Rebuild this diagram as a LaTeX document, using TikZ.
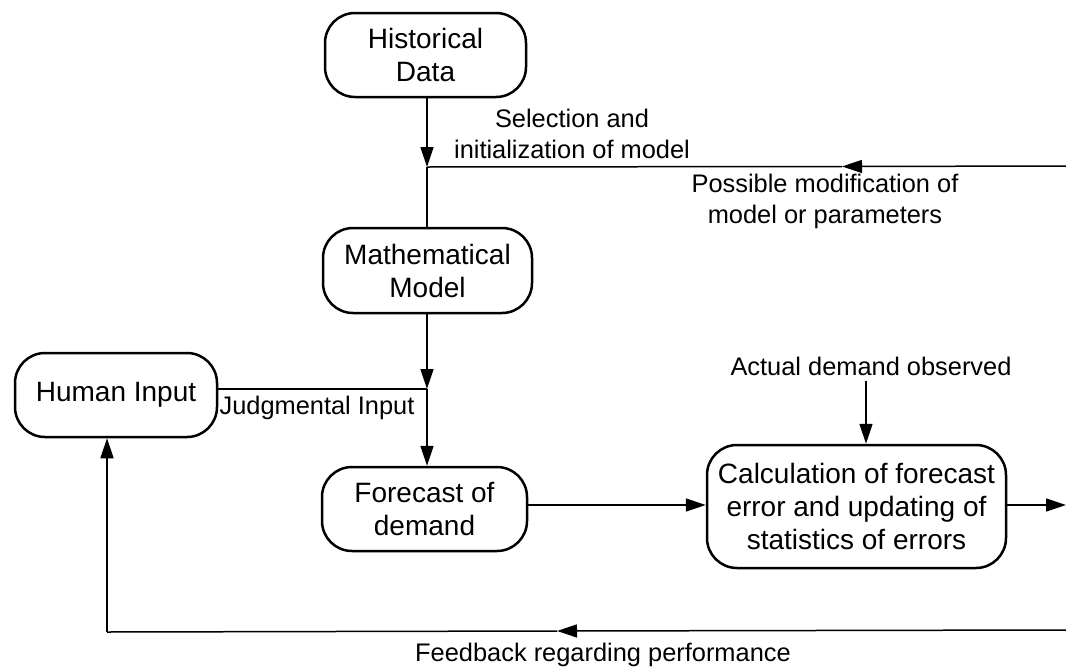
\documentclass[tikz,border=0pt]{standalone}
\usepackage{fontspec}
\setmainfont{Liberation Sans}
\usetikzlibrary{arrows.meta}
\tikzset{
  box/.style={draw, line width=2.5pt, rounded corners=30pt, align=center, inner sep=0pt,
    font=\fontsize{28}{33}\selectfont},
  lbl/.style={align=center, inner sep=0pt, font=\fontsize{25.4}{31}\selectfont},
  conn/.style={line width=1.5pt},
  arr/.style={line width=1.5pt, -{Triangle[length=20pt,width=13pt]}}
}
\begin{document}
\begin{tikzpicture}[x=1pt,y=-1pt]
\useasboundingbox (0,0) rectangle (1066,667);
% boxes
\node[box, minimum width=201pt, minimum height=84pt] (hd) at (425.5,55) {Historical\\Data};
\node[box, minimum width=209pt, minimum height=85pt] (mm) at (427.5,270.5) {Mathematical\\Model};
\node[box, minimum width=202pt, minimum height=84pt] (hi) at (116,395) {Human Input};
\node[box, minimum width=205pt, minimum height=84pt] (fd) at (424.5,509) {Forecast of\\demand};
\node[box, minimum width=299pt, minimum height=123pt] (calc) at (856.5,506.5) {Calculation of forecast\\error and updating of\\statistics of errors};
% labels
\node[lbl] (sel) at (572,134) {Selection and\\initialization of model};
\node[lbl] (mod) at (825,201) {Possible modification of\\model or parameters};
\node[lbl] (jud) at (317,408) {Judgmental Input};
\node[lbl] (ad) at (871,366) {Actual demand observed};
\node[lbl] (fb) at (603,655) {Feedback regarding performance};
% coordinates
\coordinate (j1) at (427,167);
\coordinate (j2) at (427,389);
\coordinate (modR) at (1066,166);
\coordinate (modA) at (842,166.5);
\coordinate (out) at (1066,505);
\coordinate (fbR) at (1066,630);
\coordinate (fbA) at (557,631);
\coordinate (fbL) at (107,632);
\coordinate (adTop) at (866,381);
% connectors
\draw[arr] (hd.south -| j1) -- (j1);
\draw[conn] (j1) -- (mm.north -| j1);
\draw[arr] (modR) -- (modA);
\draw[conn] (modA) -- (j1);
\draw[arr] (mm.south -| j2) -- (j2);
\draw[conn] (hi.east |- j2) -- (j2);
\draw[arr] (j2) -- (fd.north -| j2);
\draw[arr] (fd.east |- out) -- (calc.west |- out);
\draw[arr] (adTop) -- (calc.north -| adTop);
\draw[arr] (calc.east |- out) -- (out);
\draw[arr] (fbR) -- (fbA);
\draw[conn] (fbA) -- (fbL);
\draw[arr] (fbL) -- (hi.south -| fbL);
\end{tikzpicture}
\end{document}
